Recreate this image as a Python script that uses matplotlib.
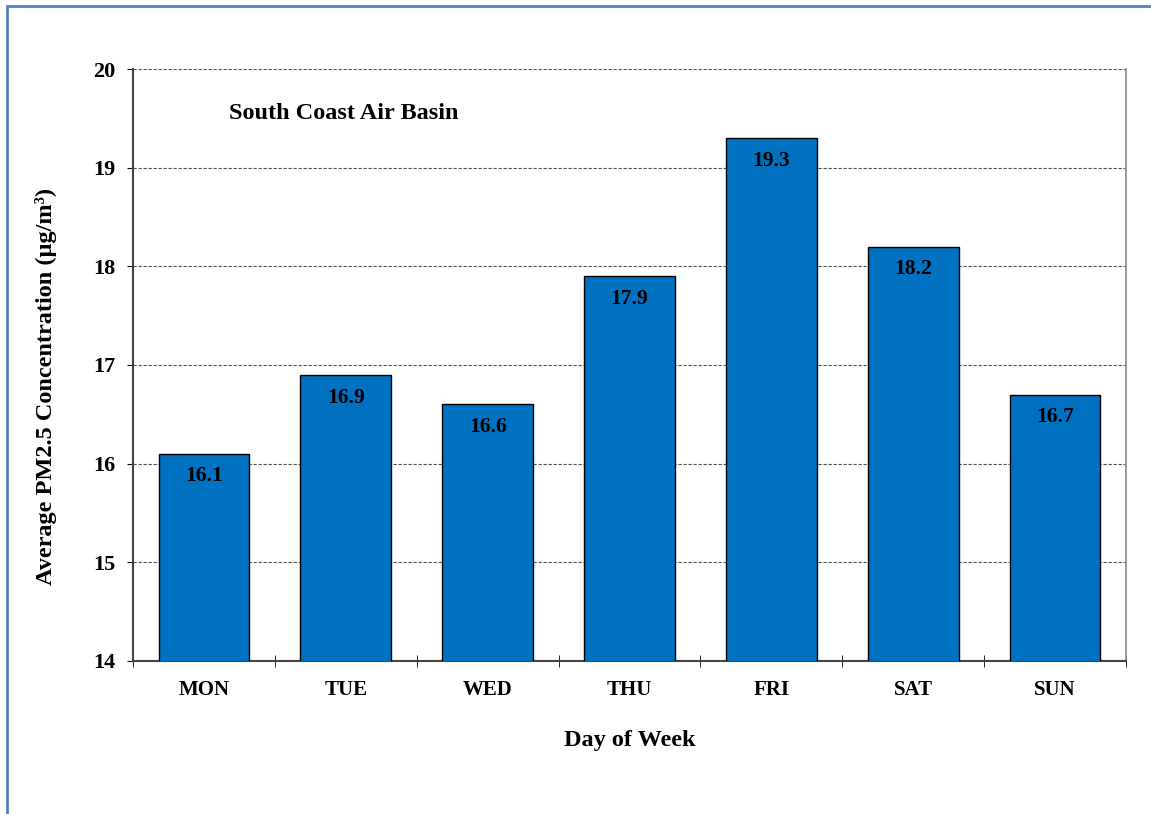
import matplotlib.pyplot as plt
import numpy as np
from matplotlib.patches import Rectangle

days = ['MON', 'TUE', 'WED', 'THU', 'FRI', 'SAT', 'SUN']
pm25 = [16.1, 16.9, 16.6, 17.9, 19.3, 18.2, 16.7]

plt.rcParams['font.family'] = 'Liberation Serif'
plt.rcParams['font.weight'] = 'bold'

fig = plt.figure(figsize=(11.51, 8.14), dpi=100)
# blue frame around the figure (only top and left visible)
fig.add_artist(Rectangle((7/1151, -0.1), 1.2, 1 - 6/814 + 0.1, transform=fig.transFigure,
                         fill=False, edgecolor='#4f81bd', linewidth=2))

ax = fig.add_axes([133/1151, 1 - 661/814, (1126 - 133)/1151, (661 - 69)/814])
x = np.arange(len(days))
ax.bar(x, pm25, width=0.64, bottom=0, color='#0070c0', edgecolor='black', linewidth=1, zorder=3)
ax.set_ylim(14, 20)
ax.set_xlim(-0.5, len(days) - 0.5)

for xi, v in zip(x, pm25):
    ax.text(xi, v - 0.23, f'{v:.1f}', ha='center', va='center', fontsize=15.5, fontweight='bold', zorder=4)

ax.set_yticks(range(14, 21))
ax.set_yticklabels([str(t) for t in range(14, 21)], fontsize=16, fontweight='bold')
ax.yaxis.grid(True, linestyle=(0, (3, 1.5)), color='#555555', linewidth=0.8, zorder=0)

ax.set_xticks(x)
ax.set_xticklabels(days, fontsize=15, fontweight='bold')
ax.tick_params(axis='x', length=0, pad=13.5)
ax.set_xticks(np.arange(-0.5, len(days)), minor=True)
ax.tick_params(axis='x', which='minor', length=9, direction='inout', color='black')
ax.tick_params(axis='y', length=4.5, direction='out', color='black', pad=8)

for s in ['left', 'bottom']:
    ax.spines[s].set_color('#444444')
    ax.spines[s].set_linewidth(1.5)
ax.spines['right'].set_color('#888888')
ax.spines['right'].set_linewidth(1.2)
ax.spines['top'].set_visible(False)

ax.set_xlabel('Day of Week', fontsize=17.5, fontweight='bold', labelpad=22)
ax.set_ylabel('Average PM2.5 Concentration (µg/m³)', fontsize=17.5, fontweight='bold')
ax.yaxis.set_label_coords(-0.077, 0.463)
ax.text(0.097, 0.925, 'South Coast Air Basin', transform=ax.transAxes, fontsize=17.5,
        fontweight='bold', va='center')

fig.savefig('out.png', dpi=100)
